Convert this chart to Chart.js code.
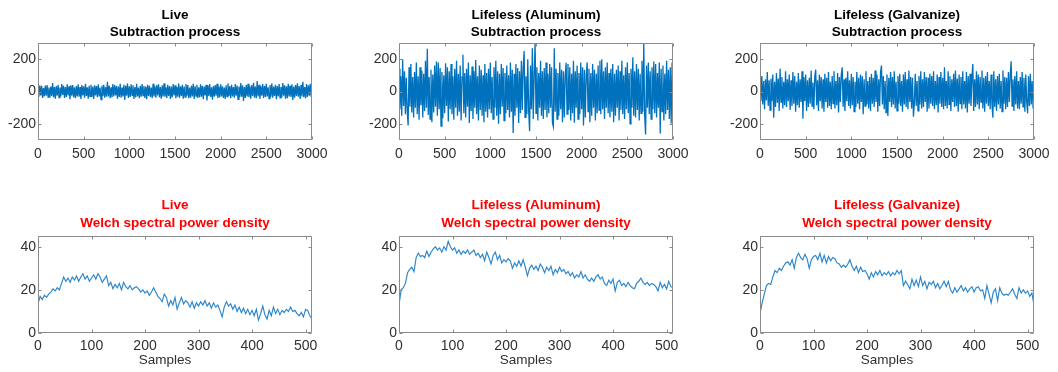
<!DOCTYPE html>
<html>
<head>
<meta charset="utf-8">
<script src="https://cdn.jsdelivr.net/npm/chart.js@4"></script>
<style>
  html, body { margin: 0; padding: 0; background: #ffffff; }
  body { width: 1058px; height: 372px; position: relative; overflow: hidden; }
  canvas { position: absolute; }
</style>
</head>
<body>
<script>
// ---------------- DATA ----------------
// Subtraction process signals (one value every 10 samples, samples 0..3000)
const subSampleStep = 10;
const liveSub = [
 28,-32,38,-24,35,-40,22,-30,36,-26,40,-34,25,-38,30,-28,52,-36,27,-44,
 34,-26,42,-38,24,-30,46,-22,36,-40,28,-34,44,-24,32,-48,38,-26,40,-36,
 26,-42,34,-30,45,-32,28,-46,40,-24,32,-38,48,-28,26,-44,36,-32,42,-34,
 30,-46,38,-25,34,-36,44,-30,24,-50,36,-28,42,-38,28,-32,60,-30,36,-42,
 26,-36,46,-30,40,-24,34,-44,30,-34,48,-38,24,-30,42,-52,36,-26,50,-40,
 32,-34,44,-24,38,-46,28,-36,48,-30,24,-42,36,-32,46,-26,34,-40,30,-48,
 42,-28,36,-34,24,-42,48,-30,32,-38,40,-24,44,-36,28,-44,38,-30,50,-32,
 26,-40,42,-28,34,-46,30,-36,46,-24,38,-42,28,-32,50,-38,32,-28,42,-45,
 30,-34,46,-26,40,-42,24,-38,36,-30,48,-46,32,-28,42,-40,26,-36,44,-32,
 36,-48,30,-24,42,-56,38,-28,46,-34,26,-50,34,-32,40,-26,48,-42,30,-36,
 44,-30,32,-40,24,-46,38,-32,50,-28,34,-42,42,-30,28,-38,46,-26,36,-48,
 30,-34,52,-32,38,-58,28,-40,42,-30,48,-36,32,-44,40,-28,54,-38,30,-42,
 64,-30,42,-46,32,-26,46,-40,36,-34,48,-30,26,-44,40,-32,50,-38,30,-28,
 42,-48,34,-30,46,-40,28,-36,52,-26,38,-44,32,-42,48,-30,36,-34,44,-52,
 30,-38,40,-28,50,-32,34,-46,42,-30,60,-36,28,-42,46,-34,38,-26,48,-32,
 40
];
const aluSub = [
 140,-110,95,-150,200,-90,125,-140,85,-120,-210,150,-95,170,-130,90,-160,120,-100,180,
 -140,95,-175,150,-85,130,-160,110,-120,190,-100,264,-145,90,-170,135,-190,105,-130,160,
 -95,185,-150,180,-110,145,-214,120,-165,100,-135,175,-90,150,-185,125,-110,170,-140,95,
 -175,140,-100,190,-150,110,-125,160,-180,90,227,-135,115,-160,140,-95,180,-195,100,-120,
 155,-170,125,-100,195,-140,95,-180,160,-115,135,-150,100,-190,170,-125,115,-160,140,-110,
 180,-135,90,-170,150,-100,190,-150,125,-200,110,-140,170,-95,145,-180,115,-135,160,-115,
 100,-160,180,-125,135,-256,110,-150,170,-100,145,-195,125,-135,190,-115,150,250,-160,95,
 -140,200,-125,-245,160,-110,268,-170,100,300,-135,150,-180,115,-100,190,-150,125,-170,145,
 -115,180,-160,110,-135,170,-100,150,-195,-218,268,-125,140,-170,115,-150,180,-110,135,-190,
 125,-160,100,177,-140,170,-115,150,-180,110,-135,190,-194,125,-100,160,-170,115,-140,180,
 -110,150,-210,135,-160,100,180,-125,140,-190,115,-150,170,-100,135,-180,110,-135,160,-115,
 190,-140,200,-110,125,-170,150,-100,180,-135,115,-160,140,-125,170,-190,110,-150,135,-100,
 160,-180,125,-115,190,-140,100,-170,150,-110,180,-135,115,-200,140,-100,212,-150,125,-160,
 170,-115,140,-180,110,-135,190,-125,300,-150,-266,160,-100,180,-140,125,-170,150,-110,185,
 -135,170,-160,115,-100,180,-260,140,-125,160,-180,110,-140,190,-115,135,-170,150,-198,180,
 -150
];
const galSub = [
 85,-60,95,-80,65,-110,75,-55,120,-90,70,-115,80,-60,105,-162,60,-95,115,-70,
 80,-120,140,-65,90,-105,60,-85,125,-95,75,-60,105,-115,70,-90,120,-75,95,-125,
 60,-85,115,-100,75,-65,125,-168,90,-60,105,-120,70,-95,85,-75,130,-90,55,-110,
 95,135,-85,70,-120,105,-60,90,-105,75,-125,110,-65,85,-100,120,-90,60,-110,95,
 -75,125,-105,65,-85,115,-130,90,-65,105,150,-95,75,-120,85,-60,125,-90,70,-105,
 110,-85,90,-125,60,-95,120,-75,85,-110,105,-65,95,-141,75,-90,125,-80,65,-105,
 90,-120,110,-75,85,-95,130,-65,105,-125,75,-90,120,160,-80,95,-110,65,-130,105,
 -152,85,-65,120,-95,90,-80,125,-105,60,-120,95,-75,110,-90,65,-125,105,-80,120,
 -95,75,-110,130,-65,90,-105,85,-156,-75,110,-90,65,-120,95,-80,125,-105,75,-95,
 120,-65,90,-125,85,-105,110,-75,95,-90,125,-110,65,-85,105,-130,90,-75,120,-95,
 85,-110,150,-90,65,-105,125,-80,95,-120,75,-65,110,-95,130,-90,80,-125,105,-75,
 90,-110,125,-80,65,-105,120,-130,95,-75,110,-90,80,170,-120,75,-95,125,-80,105,
 -110,90,-65,130,-105,85,-125,95,-75,120,-90,65,-110,105,-85,-162,125,-95,75,-120,
 95,-80,110,-105,65,-125,130,-75,90,-110,85,-95,120,-65,105,187,-90,75,-120,95,
 -80,125,-105,65,-110,90,-75,120,-95,85,-125,105,-65,-135,95,-90,110,-80,65,-105,
 80
];

// Welch spectral power density (one value every 4 samples, samples 0..512)
const psdSampleStep = 4;
const livePsd = [
 13.5,17,15.5,17.5,16.5,18,19,20.5,19.5,21,20,23,26,24,25.5,23.5,26,24.5,26.5,24,
 26,27.5,25,26.5,24,25.5,27,25,27.5,26,23.5,25,26.5,22,23.5,20.5,22.5,21,23,20,
 23.5,21.5,20.5,22,20,21,21.5,20.5,19,20,18.5,19.5,17.5,19,21,19,17,16,14.5,18,
 16.5,12.5,15,13,16.5,11,14,16.5,13.5,15,14,12,14.5,11.5,14,12.5,14.5,13,15,12.5,
 14,11.5,14,12,13,10.5,7.5,12,14.5,12.5,13.5,11,13,10,12,9.5,11.5,9,11,8.5,
 10.5,8,11,6,9,12.5,8.5,6.5,10.5,8,12,9,11,8.5,10.5,9.5,11,10,12,10,
 10.5,9,8,9.5,7.5,11,10.5,8,6.5
];
const aluPsd = [
 13,20,21,23,28,29.5,30.5,28.5,35,37,35.5,36,35,38,35.5,37.5,39,40,38.5,39.5,
 37.5,40,38.5,42.5,40,38.5,39.5,37,38.5,36.5,38,37,38.5,36.5,37.5,38.5,36,37,35,36.5,
 33.5,37.5,35,32,36,37.5,34,36,32.5,34,33,34.5,33.5,30,32.5,31,33.5,31,34,30.5,
 26.5,30,31.5,29.5,31,29,32,30.5,28,30.5,29,31,27,29.5,28,30.5,28.5,29.5,27.5,28.5,
 26.5,28,25.5,27,26,28.5,25.5,27,25,24,25.5,24,26,27,25,26,23,22,24.5,23,
 25,19.5,23.5,24.5,22,23,21.5,23.5,22,21,20.5,23,24,25.5,23.5,22.5,23.5,22,23,22.5,
 21.5,19.5,23.5,21,22.5,20.5,24,21.5,21
];
const galPsd = [
 9,14,18,22,23,22.5,26,29,28,30,29,31,32.5,33,31.5,34,30,35,37,35,
 34,36.5,34.5,30,34,35.5,36,34,37,33,36,32.5,35.5,33.5,35,34.5,32.5,32,30.5,31.5,
 30.5,32,34,31,29,31,28,30.5,28.5,29,27.5,25,28,26,28.5,27,29,26.5,28,27,
 28.5,26.5,28,27,29,27.5,29,22,24,22.5,20.5,25,22,24.5,21.5,26,22,24,20.5,23.5,
 22.5,24,21,23,20.5,22,24,21.5,24,20,18.5,21,19,20.5,22,19.5,21,19,20.5,21.5,
 19,21,21.5,19.5,20,16,22,18,14,19,20.5,15,21,18.5,17.5,18,17.5,19,20.5,18,
 16,21,18.5,20,18.5,19.5,17,18.5,13
];

// Axis ranges and tick labels
const subXRange = [0, 3000];
const subYRange = [-300, 300];
const psdXRange = [0, 512];
const psdYRange = [0, 45];
const subXTicks = [0, 500, 1000, 1500, 2000, 2500, 3000];
const subYTicks = [-200, 0, 200];
const psdXTicks = [0, 100, 200, 300, 400, 500];
const psdYTicks = [0, 20, 40];

const subTitles = [
  ["Live", "Subtraction process"],
  ["Lifeless (Aluminum)", "Subtraction process"],
  ["Lifeless (Galvanize)", "Subtraction process"]
];
const psdTitles = [
  ["Live", "Welch spectral power density"],
  ["Lifeless (Aluminum)", "Welch spectral power density"],
  ["Lifeless (Galvanize)", "Welch spectral power density"]
];
const psdXLabel = "Samples";

// ---------------- DRAWING ----------------
const FONT = "'Liberation Sans', Arial, Helvetica, sans-serif";
const TEXT = "#303030";
const LINE = "#0072BD";

const framePlugin = {
  id: 'frame',
  afterDatasetsDraw(chart, args, opts) {
    const {ctx, chartArea: a, scales} = chart;
    const L = Math.round(a.left) + 0.5, R = Math.round(a.right) - 0.5;
    const T = Math.round(a.top) + 0.5, B = Math.round(a.bottom) - 0.5;
    const tl = 3;
    ctx.save();
    ctx.strokeStyle = '#8a8a8a';
    ctx.lineWidth = 1;
    ctx.beginPath();
    ctx.rect(L, T, R - L, B - T);
    scales.x.ticks.forEach(t => {
      const p = Math.round(scales.x.getPixelForValue(t.value)) + 0.5;
      ctx.moveTo(p, B); ctx.lineTo(p, B - tl);
      ctx.moveTo(p, T); ctx.lineTo(p, T + tl);
    });
    scales.y.ticks.forEach(t => {
      const p = Math.round(scales.y.getPixelForValue(t.value)) + 0.5;
      ctx.moveTo(L, p); ctx.lineTo(L + tl, p);
      ctx.moveTo(R, p); ctx.lineTo(R - tl, p);
    });
    ctx.stroke();
    if (opts && opts.xLabel) {
      ctx.fillStyle = TEXT;
      ctx.font = '13.5px ' + FONT;
      ctx.textAlign = 'center';
      ctx.textBaseline = 'middle';
      ctx.fillText(opts.xLabel, (a.left + a.right) / 2 - 10, a.bottom + opts.xLabelOffset);
    }
    ctx.restore();
  }
};

function makeChart(opts) {
  const cv = document.createElement('canvas');
  cv.width = opts.w; cv.height = opts.h;
  cv.style.left = opts.left + 'px';
  cv.style.top = opts.top + 'px';
  cv.style.width = opts.w + 'px';
  cv.style.height = opts.h + 'px';
  document.body.appendChild(cv);
  const pts = opts.values.map((v, i) => ({x: i * opts.step, y: v}));
  new Chart(cv, {
    type: 'line',
    data: { datasets: [{
      data: pts,
      borderColor: opts.color,
      borderWidth: opts.lineWidth,
      pointRadius: 0,
      tension: 0,
      fill: false
    }]},
    options: {
      responsive: false,
      animation: false,
      devicePixelRatio: 1,
      normalized: true,
      layout: { padding: { left: 0, right: opts.padR, top: 0, bottom: 0 } },
      plugins: {
        legend: { display: false },
        tooltip: { enabled: false },
        frame: { xLabel: opts.xLabel || null, xLabelOffset: 27 },
        title: {
          display: true,
          text: opts.title,
          color: opts.titleColor,
          fullSize: false,
          font: { family: FONT, size: 13.5, weight: 'bold', lineHeight: 1.3 },
          padding: { top: opts.titlePadTop, bottom: opts.titlePadBottom }
        }
      },
      scales: {
        x: {
          type: 'linear',
          min: opts.xRange[0], max: opts.xRange[1],
          grid: { display: false, drawTicks: false, tickLength: 0 },
          border: { display: false },
          afterBuildTicks: s => { s.ticks = opts.xTicks.map(v => ({value: v})); },
          afterFit: s => { s.height = opts.xAxisH; s.paddingLeft = 0; s.paddingRight = 0; },
          ticks: { color: TEXT, font: { family: FONT, size: 14 }, padding: opts.xTickPad, maxRotation: 0, autoSkip: false,
                   callback: v => String(v) }
        },
        y: {
          type: 'linear',
          min: opts.yRange[0], max: opts.yRange[1],
          grid: { display: false, drawTicks: false, tickLength: 0 },
          border: { display: false },
          afterBuildTicks: s => { s.ticks = opts.yTicks.map(v => ({value: v})); },
          afterFit: s => { s.width = 40; s.paddingTop = 0; s.paddingBottom = 0; },
          ticks: { color: TEXT, font: { family: FONT, size: 14 }, padding: 2, autoSkip: false,
                   callback: v => String(v) }
        }
      }
    },
    plugins: [framePlugin]
  });
}

const colLeft = [38, 399, 760];   // left edge of each plot area
const plotW = 274;
const subSeries = [liveSub, aluSub, galSub];
const psdSeries = [livePsd, aluPsd, galPsd];

for (let c = 0; c < 3; c++) {
  makeChart({
    left: colLeft[c] - 40, top: 0, w: plotW + 40 + 26, h: 186, padR: 26,
    values: subSeries[c], step: subSampleStep,
    color: LINE, lineWidth: 1.3,
    title: subTitles[c], titleColor: '#000000', titlePadTop: 6.2, titlePadBottom: 1.7,
    xRange: subXRange, yRange: subYRange, xTicks: subXTicks, yTicks: subYTicks,
    xAxisH: 46, xTickPad: 6
  });
  makeChart({
    left: colLeft[c] - 40, top: 186, w: plotW + 40 + 26, h: 186, padR: 26,
    values: psdSeries[c], step: psdSampleStep,
    color: '#2a86cc', lineWidth: 1.15,
    title: psdTitles[c], titleColor: '#ff0000', titlePadTop: 11, titlePadBottom: 3.9,
    xRange: psdXRange, yRange: psdYRange, xTicks: psdXTicks, yTicks: psdYTicks,
    xAxisH: 39, xTickPad: 4.5, xLabel: psdXLabel
  });
}
</script>
</body>
</html>
